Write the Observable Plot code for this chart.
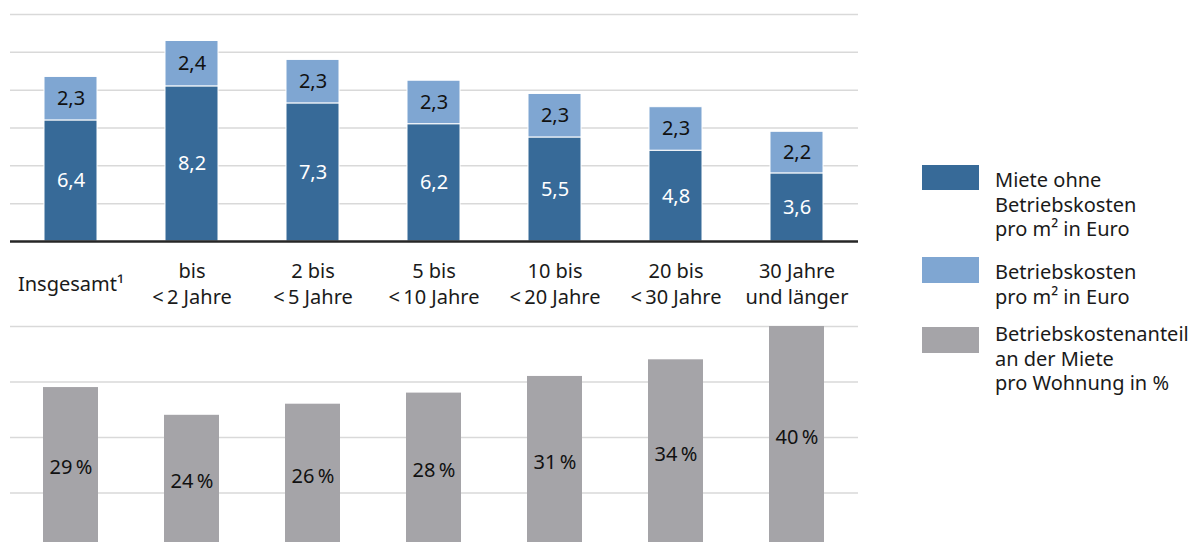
<!DOCTYPE html>
<html lang="de">
<head>
<meta charset="utf-8">
<script src="https://cdn.jsdelivr.net/npm/d3@7"></script>
<script src="https://cdn.jsdelivr.net/npm/@observablehq/plot@0.6"></script>
<style>
  html, body { margin: 0; padding: 0; background: #fff; }
  #root { position: relative; width: 1197px; height: 542px; overflow: hidden; font-family: "Noto Sans", sans-serif; color: #1a1a1a; }
  #top, #bottom { position: absolute; left: 0; }
  #top { top: 0; }
  #bottom { top: 316px; }
  .sw { position: absolute; left: 922px; width: 57px; }
  .lt { position: absolute; left: 995px; font-size: 20px; line-height: 24.5px; white-space: nowrap; }
</style>
</head>
<body>
<div id="root">
  <div id="top"></div>
  <div id="bottom"></div>
  <div id="legend"></div>
</div>
<script>
// ---- data ----
const categories = ["Insgesamt¹", "bis\n<\u20092 Jahre", "2 bis\n<\u20095 Jahre", "5 bis\n<\u200910 Jahre", "10 bis\n<\u200920 Jahre", "20 bis\n<\u200930 Jahre", "30 Jahre\nund länger"];
const mieteOhneBetriebskosten = [6.4, 8.2, 7.3, 6.2, 5.5, 4.8, 3.6];
const betriebskosten = [2.3, 2.4, 2.3, 2.3, 2.3, 2.3, 2.2];
const betriebskostenanteil = [29, 24, 26, 28, 31, 34, 40];
const topTicks = [2, 4, 6, 8, 10, 12];
const bottomTicks = [10, 20, 30, 40];
const seriesNames = ["Miete ohne Betriebskosten pro m² in Euro", "Betriebskosten pro m² in Euro", "Betriebskostenanteil an der Miete pro Wohnung in %"];
const legendLines = [
  ["Miete ohne", "Betriebskosten", "pro m² in Euro"],
  ["Betriebskosten", "pro m² in Euro"],
  ["Betriebskostenanteil", "an der Miete", "pro Wohnung in %"]
];

// ---- styles ----
const C_DARK = "#376a98", C_LIGHT = "#7fa6d2", C_GRAY = "#a5a4a8", C_GRID = "#d9d9d9";
const FONT = "Noto Sans";

const stacked = [];
categories.forEach((c, i) => stacked.push({cat: c, series: seriesNames[0], value: mieteOhneBetriebskosten[i]}));
categories.forEach((c, i) => stacked.push({cat: c, series: seriesNames[1], value: betriebskosten[i]}));
const share = categories.map((c, i) => ({cat: c, value: betriebskostenanteil[i]}));

const fmt = v => v.toFixed(1).replace(".", ",");
const barColor = d => d.series === seriesNames[0] ? C_DARK : C_LIGHT;
const textColor = d => d.series === seriesNames[0] ? "#ffffff" : "#111111";

const topPlot = Plot.plot({
  width: 870, height: 310,
  marginLeft: 10, marginRight: 12, marginTop: 14, marginBottom: 69,
  style: {fontFamily: FONT, background: "transparent"},
  x: {domain: categories, paddingInner: 0.56, paddingOuter: 0.28, axis: null},
  y: {domain: [0, 12], axis: null},
  color: {type: "identity"},
  marks: [
    Plot.ruleY(topTicks, {stroke: C_GRID, strokeWidth: 1.5}),
    Plot.barY(stacked, Plot.stackY({x: "cat", y: "value", z: "series", fill: barColor, stroke: "#ffffff", strokeWidth: 1})),
    Plot.text(stacked, Plot.stackY({x: "cat", y: "value", z: "series", text: d => fmt(d.value), fill: textColor, fontSize: 20, fontFamily: FONT})),
    Plot.ruleY([0], {stroke: "#262626", strokeWidth: 2.5}),
    Plot.text(categories, {x: d => d, text: d => d, frameAnchor: "bottom", dy: 41, lineAnchor: "middle", lineHeight: 1.3, fontSize: 20, fontFamily: FONT, fill: "#1a1a1a"})
  ]
});
document.getElementById("top").appendChild(topPlot);

const bottomPlot = Plot.plot({
  width: 870, height: 232,
  marginLeft: 10, marginRight: 12, marginTop: 10, marginBottom: 0,
  style: {fontFamily: FONT, background: "transparent", overflow: "visible"},
  x: {domain: categories, paddingInner: 0.545, paddingOuter: 0.2725, axis: null},
  y: {domain: [0, 40], axis: null},
  marks: [
    Plot.ruleY(bottomTicks, {stroke: C_GRID, strokeWidth: 1.5}),
    Plot.barY(share, {x: "cat", y: "value", fill: C_GRAY}),
    Plot.text(share, Plot.stackY({x: "cat", y: "value", text: d => d.value + "\u202F%", fill: "#111111", fontSize: 20, fontFamily: FONT}))
  ]
});
document.getElementById("bottom").appendChild(bottomPlot);

// ---- legend (HTML) ----
const legend = document.getElementById("legend");
const legendLayout = [
  {color: C_DARK, swTop: 165, swH: 25, textTop: 168},
  {color: C_LIGHT, swTop: 257, swH: 26, textTop: 260},
  {color: C_GRAY, swTop: 327, swH: 26, textTop: 322}
];
legendLayout.forEach((it, k) => {
  const sw = document.createElement("div");
  sw.className = "sw";
  sw.style.top = it.swTop + "px";
  sw.style.height = it.swH + "px";
  sw.style.background = it.color;
  legend.appendChild(sw);
  legendLines[k].forEach((line, j) => {
    const t = document.createElement("div");
    t.className = "lt";
    t.style.top = (it.textTop + j * 24.5) + "px";
    t.textContent = line;
    legend.appendChild(t);
  });
});
</script>
</body>
</html>
